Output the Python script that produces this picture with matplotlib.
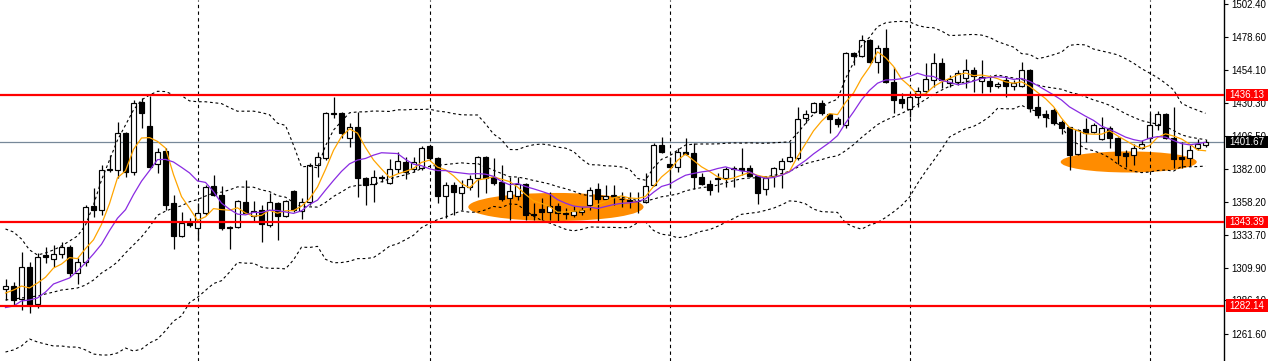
import numpy as np
import pandas as pd
import matplotlib
matplotlib.use("Agg")
import matplotlib.pyplot as plt
import matplotlib.transforms as mtransforms
from matplotlib.patches import Ellipse, Rectangle

# ---------------- data ----------------
opens = [
    1294.3, 1296.5, 1287.0, 1310.4, 1283.4, 1319.2, 1316.3, 1319.9, 1325.0, 1306.0,
    1314.1, 1355.0, 1352.1, 1381.3, 1381.3, 1408.4, 1379.9, 1431.0, 1413.5, 1385.7,
    1395.2, 1357.2, 1333.1, 1342.6, 1338.9, 1349.9, 1369.6, 1363.0, 1339.7, 1339.7,
    1357.9, 1347.7, 1352.1, 1341.1, 1357.2, 1347.7, 1366.0, 1351.4, 1357.9, 1385.0,
    1390.1, 1422.9, 1422.9, 1404.7, 1412.7, 1375.5, 1371.1, 1376.2, 1371.8, 1382.0,
    1387.2, 1382.0, 1382.8, 1398.9, 1390.1, 1362.3, 1370.4, 1364.5, 1368.9, 1375.5,
    1390.8, 1376.2, 1372.5, 1360.9, 1362.3, 1371.1, 1349.2, 1352.8, 1350.6, 1355.0,
    1349.9, 1348.4, 1350.6, 1355.7, 1367.4, 1360.1, 1362.3, 1360.1, 1359.4, 1358.7,
    1357.9, 1370.4, 1399.6, 1385.7, 1383.5, 1394.5, 1393.7, 1376.2, 1371.1, 1375.5,
    1375.5, 1382.8, 1382.8, 1382.8, 1376.9, 1367.4, 1376.9, 1382.0, 1387.9, 1390.1,
    1419.3, 1423.7, 1430.3, 1422.2, 1418.6, 1414.2, 1466.8, 1464.6, 1476.3, 1460.3,
    1470.5, 1445.6, 1433.2, 1425.9, 1434.7, 1439.1, 1447.1, 1459.5, 1444.9, 1445.6,
    1448.6, 1454.4, 1446.4, 1446.4, 1442.7, 1447.1, 1442.7, 1442.7, 1454.4, 1427.4,
    1422.2, 1425.2, 1416.4, 1412.7, 1393.0, 1411.3, 1409.1, 1404.0, 1412.0, 1404.7,
    1393.7, 1392.3, 1397.4, 1404.7, 1414.2, 1422.2, 1404.7, 1390.8, 1390.1, 1397.4,
    1399.8,
]
highs = [
    1301.7, 1299.5, 1321.4, 1314.1, 1320.7, 1325.0, 1326.5, 1328.7, 1326.5, 1317.0,
    1355.7, 1368.2, 1385.0, 1392.3, 1416.4, 1409.1, 1432.5, 1433.9, 1435.4, 1397.4,
    1397.4, 1363.0, 1350.6, 1346.2, 1357.2, 1370.4, 1377.7, 1369.6, 1340.4, 1359.4,
    1374.0, 1358.7, 1355.7, 1364.5, 1357.9, 1359.4, 1366.7, 1360.9, 1386.4, 1394.5,
    1423.7, 1434.7, 1423.7, 1415.7, 1423.7, 1376.2, 1381.3, 1377.7, 1389.4, 1394.5,
    1390.8, 1390.8, 1398.9, 1399.6, 1390.8, 1372.5, 1372.5, 1374.0, 1377.7, 1391.6,
    1391.6, 1390.1, 1385.0, 1376.2, 1376.2, 1371.8, 1357.2, 1360.9, 1365.2, 1357.2,
    1353.5, 1355.0, 1354.3, 1368.9, 1371.8, 1370.4, 1370.4, 1365.2, 1365.2, 1365.2,
    1379.1, 1401.1, 1405.4, 1390.8, 1397.4, 1404.7, 1401.1, 1379.1, 1374.0, 1379.1,
    1383.5, 1384.2, 1397.4, 1385.0, 1377.7, 1376.9, 1383.5, 1390.1, 1401.8, 1427.4,
    1425.2, 1431.0, 1432.5, 1423.0, 1420.1, 1467.6, 1467.6, 1480.0, 1477.1, 1472.7,
    1484.4, 1456.6, 1437.6, 1437.6, 1442.0, 1459.5, 1466.8, 1463.2, 1450.8, 1454.4,
    1462.5, 1456.6, 1461.7, 1450.8, 1445.6, 1449.3, 1447.1, 1460.3, 1455.2, 1436.9,
    1425.2, 1426.6, 1417.9, 1412.7, 1411.3, 1419.3, 1415.7, 1420.1, 1413.5, 1405.4,
    1395.9, 1400.3, 1403.2, 1423.0, 1424.4, 1423.0, 1427.4, 1401.8, 1399.6, 1403.9,
    1404.1,
]
lows = [
    1286.3, 1282.6, 1279.0, 1276.8, 1280.4, 1313.4, 1310.4, 1317.0, 1303.1, 1298.0,
    1311.2, 1347.0, 1348.4, 1379.9, 1375.5, 1376.2, 1377.7, 1412.0, 1382.8, 1379.1,
    1352.1, 1323.6, 1332.4, 1339.7, 1330.2, 1348.4, 1362.3, 1337.5, 1323.6, 1338.9,
    1349.2, 1343.3, 1328.7, 1339.7, 1330.2, 1347.0, 1350.6, 1345.5, 1355.7, 1376.2,
    1388.6, 1419.3, 1404.7, 1398.1, 1361.6, 1355.7, 1357.9, 1372.5, 1371.1, 1379.1,
    1374.7, 1379.9, 1381.3, 1388.6, 1357.2, 1346.2, 1348.4, 1352.1, 1366.7, 1361.6,
    1364.5, 1370.4, 1358.3, 1344.8, 1359.4, 1344.8, 1344.8, 1344.8, 1344.8, 1343.3,
    1345.5, 1347.0, 1348.4, 1352.1, 1343.3, 1359.4, 1355.7, 1354.3, 1353.5, 1349.9,
    1357.2, 1369.6, 1393.7, 1368.2, 1379.9, 1392.3, 1367.4, 1370.4, 1363.0, 1365.2,
    1368.9, 1368.9, 1377.7, 1376.2, 1356.5, 1363.0, 1368.9, 1368.2, 1387.2, 1388.6,
    1415.7, 1423.0, 1421.5, 1408.4, 1412.7, 1412.0, 1458.1, 1463.9, 1459.5, 1452.2,
    1444.9, 1423.0, 1426.6, 1420.1, 1427.4, 1436.1, 1442.0, 1441.2, 1442.0, 1443.4,
    1441.2, 1438.3, 1437.6, 1438.3, 1441.2, 1434.7, 1439.8, 1442.0, 1423.7, 1419.3,
    1412.7, 1414.2, 1407.6, 1381.3, 1392.3, 1401.8, 1408.4, 1403.2, 1397.4, 1385.7,
    1383.5, 1385.0, 1396.7, 1401.8, 1410.6, 1404.0, 1382.8, 1382.8, 1384.2, 1395.9,
    1398.3,
]
closes = [
    1296.5, 1286.3, 1310.4, 1282.6, 1317.7, 1317.7, 1319.9, 1325.0, 1306.0, 1314.1,
    1354.3, 1352.1, 1381.3, 1382.0, 1408.4, 1379.9, 1430.3, 1422.9, 1383.5, 1394.5,
    1355.7, 1333.1, 1342.6, 1341.1, 1349.9, 1368.9, 1363.0, 1338.9, 1338.9, 1358.7,
    1349.9, 1351.4, 1341.8, 1357.9, 1347.7, 1358.7, 1352.1, 1357.9, 1385.0, 1390.8,
    1422.9, 1421.9, 1408.4, 1412.7, 1375.5, 1370.4, 1376.2, 1375.5, 1382.0, 1387.9,
    1379.9, 1387.2, 1397.4, 1390.1, 1362.3, 1370.4, 1365.2, 1368.9, 1374.7, 1390.8,
    1375.5, 1371.8, 1360.1, 1366.0, 1371.1, 1348.4, 1348.4, 1350.6, 1355.0, 1349.9,
    1349.2, 1351.4, 1352.1, 1366.7, 1360.1, 1362.3, 1363.0, 1359.8, 1359.0, 1358.3,
    1369.6, 1399.6, 1394.5, 1383.5, 1394.5, 1393.0, 1376.2, 1371.1, 1366.7, 1375.1,
    1382.0, 1382.4, 1381.3, 1376.9, 1364.5, 1375.5, 1382.8, 1387.9, 1390.8, 1418.6,
    1422.2, 1430.3, 1423.0, 1418.6, 1414.9, 1466.8, 1464.6, 1476.3, 1460.3, 1470.5,
    1445.6, 1432.5, 1430.3, 1434.7, 1439.1, 1447.8, 1459.5, 1447.1, 1447.8, 1452.2,
    1454.4, 1450.0, 1449.3, 1442.7, 1444.2, 1442.7, 1444.9, 1454.4, 1426.6, 1421.5,
    1420.1, 1415.7, 1412.0, 1392.3, 1410.6, 1408.4, 1414.2, 1412.0, 1404.7, 1392.3,
    1391.5, 1397.4, 1400.3, 1414.2, 1422.2, 1404.7, 1389.4, 1389.4, 1395.9, 1400.5,
    1401.67,
]

# indicator values at the left edge (history before the window)
sma5_lead = [1291.4, 1293.6, 1296.5, 1295.1]
sma10_lead = [1280.8, 1281.9, 1285.6, 1286.3, 1287.8, 1292.1, 1298.0, 1300.2, 1302.4]
bb_upper_lead = [1338.2, 1336.0, 1330.9, 1322.9, 1319.2, 1320.7, 1322.9, 1325.8, 1329.4, 1333.1,
                 1341.1, 1355.7, 1374.0, 1388.6, 1403.2, 1414.2, 1425.2, 1432.5, 1436.1]
bb_mid_lead = [1286.3, 1287.0, 1287.8, 1288.5, 1289.2, 1290.7, 1292.1, 1293.6, 1294.3, 1295.1,
               1297.2, 1300.9, 1306.0, 1309.7, 1314.1, 1320.7, 1326.5, 1332.4, 1339.7]
bb_lower_lead = [1248.3, 1249.8, 1252.7, 1257.8, 1255.6, 1254.1, 1252.7, 1252.7, 1251.9, 1251.9,
                 1249.8, 1246.8, 1246.1, 1246.1, 1247.6, 1251.2, 1249.0, 1250.4, 1254.9]

level_prices = [1436.13, 1343.39, 1282.14]
level_labels = ["1436.13", "1343.39", "1282.14"]
current_price = 1401.67
current_label = "1401.67"
tick_values = [1502.40, 1478.60, 1454.10, 1430.30, 1406.50, 1382.00,
               1358.20, 1333.70, 1309.90, 1286.10, 1261.60]
tick_labels = ["1502.40", "1478.60", "1454.10", "1430.30", "1406.50", "1382.00",
               "1358.20", "1333.70", "1309.90", "1286.10", "1261.60"]
separator_bars = [24, 53, 83, 113, 143]
# highlighted zones: (centre bar, centre price, width in bars, height in price)
zones = [(68.8, 1354.3, 21.9, 20.5), (140.4, 1387.2, 17.0, 15.4)]

# ---------------- indicators ----------------
c = pd.Series(closes)
sma5 = c.rolling(5).mean().to_numpy()
sma10 = c.rolling(10).mean().to_numpy()
mid_s = c.rolling(20).mean()
sd_s = c.rolling(20).std(ddof=0)
bb_up = (mid_s + 2 * sd_s).to_numpy()
bb_lo = (mid_s - 2 * sd_s).to_numpy()
bb_mid = mid_s.to_numpy()
sma5[:len(sma5_lead)] = sma5_lead
sma10[:len(sma10_lead)] = sma10_lead
bb_up[:len(bb_upper_lead)] = bb_upper_lead
bb_mid[:len(bb_mid_lead)] = bb_mid_lead
bb_lo[:len(bb_lower_lead)] = bb_lower_lead

# ---------------- figure ----------------
W, H = 1268, 361
fig = plt.figure(figsize=(W / 100, H / 100), dpi=100)
ax = fig.add_axes([0, 0, 1224 / W, 1])
ax.set_facecolor("white")

n = len(closes)
x = np.arange(n)
o = np.array(opens); h = np.array(highs); l = np.array(lows); cl = np.array(closes)

# zones
for cx, cy, w, hh in zones:
    ax.add_patch(Ellipse((cx, cy), w, hh, facecolor="#FF8C00", edgecolor="none", zorder=1))

# separators
for b in separator_bars:
    ax.axvline(b, color="black", lw=0.8, linestyle=(0, (3, 3)), zorder=2)

# current price line
ax.axhline(current_price, color="#778899", lw=0.9, zorder=2)

# candles
ax.vlines(x, l, h, color="black", lw=0.9, zorder=3)
up = cl >= o
bw = 0.58
ax.bar(x[up], cl[up] - o[up], bottom=o[up], width=bw, facecolor="white",
       edgecolor="black", lw=0.85, zorder=4)
ax.bar(x[~up], o[~up] - cl[~up], bottom=cl[~up], width=bw, facecolor="black",
       edgecolor="black", lw=0.85, zorder=4)

# indicators
dots = (0, (2.5, 2.5))
ax.plot(x, bb_up, color="black", lw=0.8, linestyle=dots, zorder=5)
ax.plot(x, bb_mid, color="black", lw=0.8, linestyle=dots, zorder=5)
ax.plot(x, bb_lo, color="black", lw=0.8, linestyle=dots, zorder=5)
ax.plot(x, sma5, color="#FFA500", lw=0.9, zorder=6)
ax.plot(x, sma10, color="#8A2BE2", lw=0.9, zorder=6)

# level lines
for p in level_prices:
    ax.axhline(p, color="#FF0000", lw=1.6, zorder=7)

ax.set_xlim(-0.6875, 152.31)
ax.set_ylim(1241.72, 1505.57)

for s in ["left", "top", "bottom"]:
    ax.spines[s].set_visible(False)
ax.spines["right"].set_color("black")
ax.spines["right"].set_linewidth(1.0)
ax.set_xticks([])
ax.yaxis.tick_right()
ax.set_yticks(tick_values)
ax.set_yticklabels(tick_labels)
ax.tick_params(axis="y", length=3, width=0.8, pad=2.5, labelsize=7, colors="black")
for t in ax.get_yticklabels():
    t.set_family("Liberation Sans")

# price tags on the right scale
x0 = 1226 / 1224.0          # left edge of tag, axes fraction
x1 = W / 1224.0             # right edge of figure, axes fraction
trans = mtransforms.blended_transform_factory(ax.transAxes, ax.transData)
px_per_price = H / (1505.57 - 1241.72)
tag_h = 12.5 / px_per_price
tags = list(zip(level_prices, level_labels, ["#FF0000"] * 3)) + [(current_price, current_label, "black")]
for p, lab, col in tags:
    ax.add_patch(Rectangle((x0, p - tag_h / 2), x1 - x0, tag_h, transform=trans,
                           facecolor=col, edgecolor="none", clip_on=False, zorder=9))
    ax.text((x0 + x1) / 2, p, lab, transform=trans, ha="center", va="center",
            color="white", fontsize=7, family="Liberation Sans", clip_on=False, zorder=10)

fig.savefig("out.png", dpi=100)
